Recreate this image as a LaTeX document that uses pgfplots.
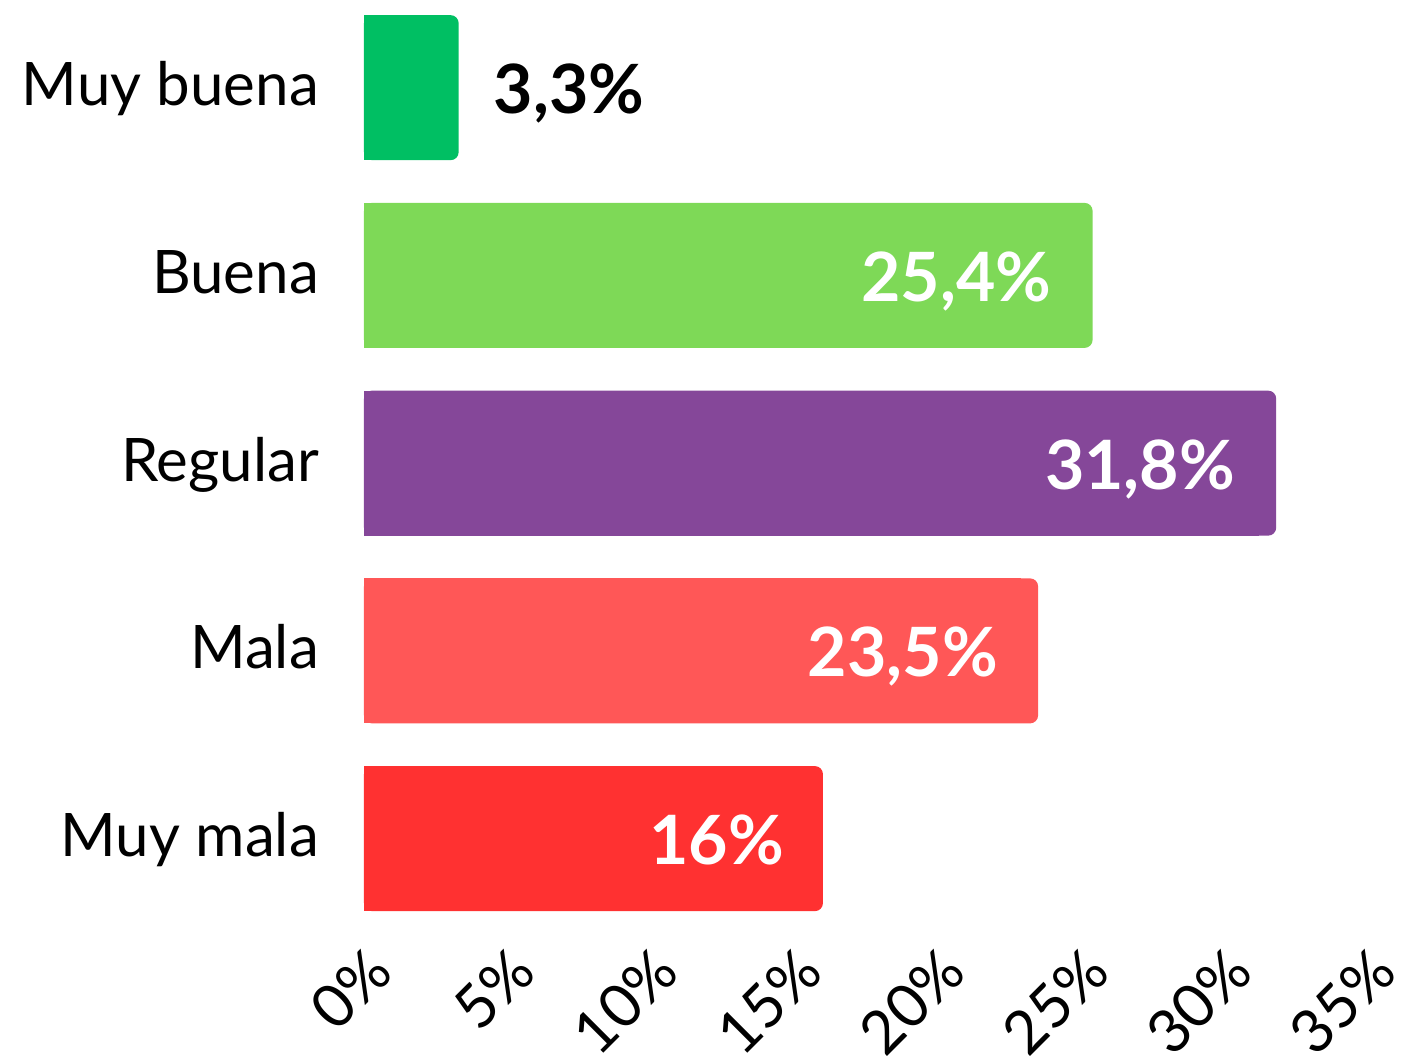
\documentclass[border=0pt]{standalone}
\usepackage{pgfplots}
\pgfplotsset{compat=1.18}
\usepackage{fontspec}
\setmainfont{Lato}
\definecolor{cMB}{HTML}{00BF63}
\definecolor{cB}{HTML}{7ED957}
\definecolor{cR}{HTML}{854799}
\definecolor{cM}{HTML}{FF5757}
\definecolor{cMM}{HTML}{FF3131}
\begin{document}
\begin{tikzpicture}
\begin{axis}[
  at={(0pt,0pt)}, anchor=south west,
  scale only axis, width=1004pt, height=923.7pt,
  xmin=0, xmax=35, ymin=-0.46, ymax=4.46,
  axis line style={draw=none}, major tick length=0pt,
  xtick={0,5,10,15,20,25,30,35},
  xticklabels={0\%,5\%,10\%,15\%,20\%,25\%,30\%,35\%},
  ytick={0,1,2,3,4},
  yticklabels={Muy mala,Mala,Regular,Buena,Muy buena},
  xticklabel style={font=\fontsize{60}{70}\selectfont, xshift=16pt, yshift=-35pt, rotate=45, anchor=east, inner sep=0pt},
  yticklabel style={font=\fontsize{60}{70}\selectfont, anchor=base east, inner sep=0pt, xshift=-45pt, yshift=-18pt},
  clip=false,
]
% Muy mala
\addplot[xbar, bar shift=0pt, bar width=145pt, fill=cMM, draw=none, rounded corners=8pt] coordinates {(16,0)};
\addplot[xbar, bar shift=0pt, bar width=145pt, fill=cMM, draw=none] coordinates {(15.4,0)};
% Mala
\addplot[xbar, bar shift=0pt, bar width=145pt, fill=cM, draw=none, rounded corners=8pt] coordinates {(23.5,1)};
\addplot[xbar, bar shift=0pt, bar width=145pt, fill=cM, draw=none] coordinates {(22.9,1)};
% Regular
\addplot[xbar, bar shift=0pt, bar width=145pt, fill=cR, draw=none, rounded corners=8pt] coordinates {(31.8,2)};
\addplot[xbar, bar shift=0pt, bar width=145pt, fill=cR, draw=none] coordinates {(31.2,2)};
% Buena
\addplot[xbar, bar shift=0pt, bar width=145pt, fill=cB, draw=none, rounded corners=8pt] coordinates {(25.4,3)};
\addplot[xbar, bar shift=0pt, bar width=145pt, fill=cB, draw=none] coordinates {(24.8,3)};
% Muy buena
\addplot[xbar, bar shift=0pt, bar width=145pt, fill=cMB, draw=none, rounded corners=8pt] coordinates {(3.3,4)};
\addplot[xbar, bar shift=0pt, bar width=145pt, fill=cMB, draw=none] coordinates {(2.7,4)};

\tikzset{vl/.style={inner sep=0pt, font=\bfseries\fontsize{68}{80}\selectfont}}
\node[vl, text=white, anchor=base east, xshift=-39pt, yshift=-26pt] at (axis cs:16,0) {16\%};
\node[vl, text=white, anchor=base east, xshift=-40pt, yshift=-26pt] at (axis cs:23.5,1) {23,5\%};
\node[vl, text=white, anchor=base east, xshift=-41pt, yshift=-26pt] at (axis cs:31.8,2) {31,8\%};
\node[vl, text=white, anchor=base east, xshift=-41pt, yshift=-26pt] at (axis cs:25.4,3) {25,4\%};
\node[vl, text=black, anchor=base west, xshift=35pt, yshift=-26pt] at (axis cs:3.3,4) {3,3\%};
\end{axis}
\pgfresetboundingbox
\path[use as bounding box] (-364pt,-134pt) rectangle (1042pt,925pt);
\end{tikzpicture}
\end{document}
